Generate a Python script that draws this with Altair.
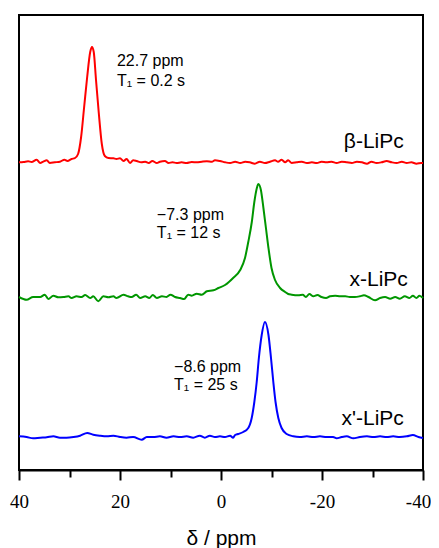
import altair as alt
import pandas as pd

# ---- spectra (ppm, intensity above own baseline) ----
red_ppm = [40, 39.1, 38.2, 37.5, 36.5, 35.8, 35.2, 34.5, 33.9, 32.9, 31.9, 31.0, 30.4, 29.6,
           28.9, 28.3, 27.7, 27.1, 26.5, 25.9, 25.55, 25.2, 24.75, 24.2, 23.6, 23.0, 22.3,
           21.3, 20.7, 20.0, 19.3, 18.7, 18.0, 17.4, 16.7, 15.8, 15.0, 14.3, 13.6, 12.7, 12.1,
           11.1, 10.4, 9.6, 8.8, 7.8, 6.8, 5.8, 4.8, 3.8, 2.8, 1.8, 1.2, 0.2, -0.8, -1.8, -2.8,
           -3.8, -4.8, -5.7, -6.7, -7.7, -8.7, -9.7, -10.7, -11.3, -12.0, -12.7, -13.3, -14.0,
           -15.0, -16.0, -17.0, -18.0, -19.0, -19.9, -20.9, -21.9, -22.9, -23.9, -24.9, -25.9,
           -26.9, -27.9, -28.9, -29.8, -30.8, -31.8, -32.8, -33.8, -34.8, -35.8, -36.8, -37.7,
           -38.7, -39.7, -40]
red_int = [-0.3, 0, 0.7, 0, 2.3, -1, 0.3, 1.7, -1, -0.3, 0.3, 2.3, 1, 3,
           4, 8, 25, 55, 85, 110, 115, 110, 82, 49, 18, 6, 4,
           3.7, 3, 3.7, 1, 3, -1, 1.7, 1, -0.3, 0.3, -1, 1, -1, 0.3,
           1, -1, -0.3, -1, -0.3, -1, 0, -0.3, 0.3, 0.7, 0.3, 1.7, 1, -0.3, -1, 0.3,
           -1, 0.3, -0.3, -1.7, 0.3, -1, 0.3, 1.7, 0.3, 2.3, -0.3, 1.7, -1,
           -0.3, 0.3, -1, -0.3, -1, 0.3, -0.3, 0.3, -1, 0.3, -0.3, -1,
           0.3, -0.3, -1.7, 0.3, -1, -0.3, 1, -0.3, -1, 0.3, -1, -0.3,
           -1.7, -1, -1]

green_ppm = [40, 38.5, 37.2, 35.8, 34.9, 34.2, 33.2, 32.2, 31.2, 30.2, 29.6, 28.6, 27.6, 26.9,
             25.9, 25.3, 24.3, 23.3, 22.3, 21.3, 20.7, 19.3, 18.4, 17.7, 16.8, 16.0, 15.0,
             14.2, 13.5, 12.7, 11.7, 10.8, 10.0, 9.1, 8.1, 7.3, 6.5, 5.8, 4.8, 3.8, 2.8, 1.5,
             0.5, -0.8, -2.4, -3.8, -4.75, -5.4, -6.1, -6.6, -7.1, -7.4, -7.9, -8.4, -8.9,
             -9.4, -10.0, -10.7, -11.7, -12.7, -13.3, -14.0, -15.3, -16.2, -16.8, -17.5,
             -18.3, -19.1, -19.9, -20.8, -21.6, -22.6, -23.6, -24.6, -25.5, -26.5, -27.5,
             -28.3, -29.2, -30.5, -31.5, -32.5, -33.5, -34.5, -35.4, -36.4, -37.3, -38.0,
             -38.7, -39.3, -40]
green_int = [1, -1.7, 1, 1, 3.3, -1, 2.3, 0.7, 1, 1.7, 0, 1.7, 1, 3,
             0, 1.7, -3.3, 1.7, 0.7, 1.7, 0, 3.3, 1.7, 1, 3.3, 0, 1.7,
             0, 3, 0, 1.7, 1, 3.3, 1, 0, -1, 3.3, 2.3, 4.3, 3.3, 6.7, 7.7,
             10, 13, 20, 28, 40, 56, 76, 96, 110, 114, 108, 90, 70,
             50, 30, 18, 10, 6, 4, 3.3, 2.7, 3.3, 1, 4,
             1.7, 3, 1, 0, 1.7, 2.3, 1.7, 1.7, 1, 1, 1.7,
             2.7, 1, -2.3, 0, 1, -0.7, 1, -0.7, 1.7, 0, 2.3,
             0, 2.3, 0]

blue_ppm = [40, 38.5, 37.2, 35.8, 34.5, 33.2, 31.9, 30.6, 29.2, 27.9, 26.5, 25.3, 24.0, 22.6,
            21.3, 20.0, 18.7, 17.4, 15.7, 14.7, 13.4, 12.1, 10.8, 9.4, 8.1, 6.8, 5.5, 4.2,
            3.2, 2.2, 1.2, 0.2, -0.8, -1.8, -2.4, -2.8, -3.4, -4.4, -5.4, -6.08, -6.6,
            -7.07, -7.5, -8.06, -8.7, -9.4, -9.9, -10.36, -10.8, -11.35, -12.0, -13.0,
            -14.3, -15.6, -17.0, -18.3, -19.6, -20.9, -22.2, -22.9, -23.9, -24.9, -26.2,
            -27.5, -28.9, -30.2, -31.5, -32.8, -34.1, -35.4, -36.8, -38.0, -39.1, -40]
blue_int = [0.7, 0, -1.3, -0.7, -0.3, 0.7, -0.7, -0.7, 0, 1.3, 4, 2.3, 1.3, 0.7,
            1.3, 0, -0.7, 0, -2.7, 0, 0, 0.7, -0.7, 0.7, 0, 0.7, -0.7, 1.3,
            -0.7, 1.3, 0, 0.7, 0, 1.3, -0.7, 2, 3, 5, 9, 19, 35,
            55, 79, 102, 115, 102, 79, 55, 35, 19, 9, 3,
            0.7, 0, 0.7, 0, 0.7, 0, 0, -1.3, 0, 0.7, -1.3,
            0, 0.7, 0, 0.7, 0, 0.7, 0, 0.7, 2, 0, -1]

samples = ["β-LiPc", "x-LiPc", "x'-LiPc"]
sample_colors = ["#ff0000", "#009600", "#0000ff"]
stack_offsets = [308, 172, 33]

# annotations
ann_text = ["22.7 ppm", "T\u2081 = 0.2 s", "\u22127.3 ppm", "T\u2081 = 12 s",
            "\u22128.6 ppm", "T\u2081 = 25 s"]
ann_ppm = [20.6, 20.6, 12.7, 12.7, 9.3, 9.3]
ann_y = [404, 384, 250, 232, 98, 80]

lab_ppm = [-36.2, -37.0, -36.2]
lab_y = [322, 184, 45]

rows = []
for name, xs, ys, off in zip(samples, [red_ppm, green_ppm, blue_ppm],
                             [red_int, green_int, blue_int], stack_offsets):
    for x, v in zip(xs, ys):
        rows.append({"ppm": x, "y": v + off, "sample": name})
df = pd.DataFrame(rows)

ann_df = pd.DataFrame({"ppm": ann_ppm, "y": ann_y, "text": ann_text})
lab_df = pd.DataFrame({"ppm": lab_ppm, "y": lab_y, "text": samples})

xscale = alt.Scale(domain=[-40, 40], reverse=True, nice=False, zero=False)
yscale = alt.Scale(domain=[0, 455], nice=False, zero=False)

x_axis = alt.Axis(
    title="δ / ppm",
    titleFont="Liberation Sans", titleFontSize=21, titleFontWeight="normal",
    titleColor="black", titlePadding=16,
    values=[40, 30, 20, 10, 0, -10, -20, -30, -40],
    labelExpr="datum.value % 20 === 0 ? toString(datum.value) : ''",
    labelFont="Liberation Serif", labelFontSize=19, labelColor="black",
    labelPadding=12, labelFlush=False, labelOverlap=False,
    labelOffset={"condition": {"test": "datum.value === -40", "value": -5}, "value": 0},
    tickSize={"condition": {"test": "datum.value % 20 === 0", "value": 10}, "value": 7},
    tickWidth=2, tickColor="black",
    domainColor="black", domainWidth=2, grid=False,
)

lines = alt.Chart(df).mark_line(strokeWidth=2, interpolate="monotone").encode(
    x=alt.X("ppm:Q", scale=xscale, axis=x_axis),
    y=alt.Y("y:Q", scale=yscale, axis=None),
    color=alt.Color("sample:N", scale=alt.Scale(domain=samples, range=sample_colors),
                    legend=None),
)

ann = alt.Chart(ann_df).mark_text(
    align="left", baseline="alphabetic", font="Liberation Sans", fontSize=16, color="black"
).encode(
    x=alt.X("ppm:Q", scale=xscale, axis=x_axis),
    y=alt.Y("y:Q", scale=yscale, axis=None),
    text="text:N",
)

labs = alt.Chart(lab_df).mark_text(
    align="right", baseline="alphabetic", font="Liberation Sans", fontSize=21, color="black"
).encode(
    x=alt.X("ppm:Q", scale=xscale, axis=x_axis),
    y=alt.Y("y:Q", scale=yscale, axis=None),
    text="text:N",
)

chart = alt.layer(lines, ann, labs).properties(
    width=404, height=455,
    autosize=alt.AutoSizeParams(type="none"),
    padding={"left": 11, "top": 7, "right": 8, "bottom": 80},
).configure_view(stroke="black", strokeWidth=2)

chart.save("out.html", embed_options={"renderer": "svg", "actions": False})
